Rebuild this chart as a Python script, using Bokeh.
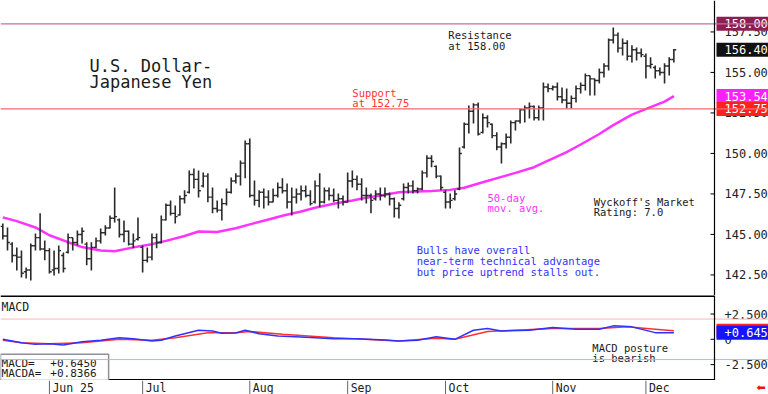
import numpy as np
from bokeh.plotting import figure
from bokeh.layouts import column
from bokeh.models import Range1d, Span, ColumnDataSource
from bokeh.core.properties import value
from bokeh.embed import file_html
from bokeh.resources import INLINE

# ---------------- data ----------------
opens = [
    145.5, 144.9, 144.4, 143.7, 143.6, 142.7, 142.8, 144.3, 144.8, 144.1,
    144.0, 142.8, 142.9, 143.7, 143.9, 144.8, 144.5, 145.0, 144.4, 143.5,
    144.2, 144.6, 145.1, 145.4, 146.0, 145.9, 145.0, 145.2, 144.4, 144.7,
    144.2, 143.4, 143.6, 144.8, 144.5, 145.9, 146.8, 146.3, 146.2, 147.2,
    147.6, 148.7, 148.4, 148.0, 148.6, 147.3, 146.6, 146.5, 146.9, 147.6,
    148.3, 148.6, 149.4, 150.6, 147.4, 147.1, 147.6, 147.3, 147.0, 147.4,
    147.9, 147.7, 147.0, 147.3, 147.5, 147.7, 147.4, 147.0, 148.0, 147.0,
    147.7, 147.4, 147.1, 147.2, 147.0, 148.3, 148.4, 148.1, 147.4, 147.4,
    147.2, 147.5, 147.4, 147.5, 147.2, 146.6, 147.2, 147.9, 148.0, 147.7,
    147.8, 148.8, 149.7, 149.2, 148.6, 147.6, 147.0, 147.2, 147.8, 150.4,
    151.8, 152.6, 153.0, 151.3, 152.2, 151.8, 151.1, 150.4, 150.6, 151.0,
    151.9, 152.0, 152.7, 152.8, 152.9, 152.2, 152.8, 154.1, 154.0, 154.1,
    153.5, 153.3, 153.1, 153.4, 154.0, 154.2, 154.8, 154.6, 154.5, 155.0,
    155.4, 157.0, 157.3, 156.5, 156.8, 156.0, 156.4, 156.2, 156.0, 155.4,
    155.3, 155.1, 155.0, 155.4, 155.8]
highs = [
    145.68, 145.43, 144.51, 144.20, 144.01, 142.96, 144.44, 145.06, 146.30, 144.63,
    144.14, 144.01, 144.32, 143.89, 145.06, 144.81, 145.25, 145.43, 144.51, 144.51,
    144.81, 145.37, 145.56, 146.17, 147.90, 145.99, 145.86, 145.25, 145.06, 146.05,
    144.32, 144.20, 145.06, 145.06, 146.17, 146.91, 147.10, 146.79, 147.41, 147.72,
    148.95, 149.07, 148.95, 148.83, 148.77, 147.90, 147.10, 147.22, 147.84, 148.52,
    148.77, 149.57, 150.80, 150.92, 148.33, 147.72, 147.84, 147.72, 147.84, 148.21,
    148.46, 148.15, 147.90, 147.84, 148.02, 148.02, 147.72, 148.33, 148.77, 147.90,
    147.90, 147.84, 147.53, 147.41, 148.83, 148.95, 148.64, 148.46, 147.90, 147.53,
    147.72, 147.90, 147.90, 147.59, 147.28, 146.98, 148.15, 148.21, 148.33, 147.90,
    148.95, 149.88, 149.88, 149.26, 148.64, 147.72, 147.53, 147.72, 150.37, 151.91,
    152.96, 153.09, 153.15, 152.47, 152.35, 151.85, 151.30, 150.68, 151.23, 152.04,
    152.04, 152.78, 152.96, 153.15, 152.96, 152.96, 154.38, 154.32, 154.20, 154.38,
    154.07, 154.01, 153.58, 154.20, 154.38, 154.94, 154.81, 154.63, 155.25, 155.56,
    157.10, 157.78, 157.47, 157.10, 156.98, 156.67, 156.54, 156.48, 156.17, 155.93,
    155.43, 155.31, 155.56, 155.93, 156.45]
lows = [
    144.69, 144.01, 143.27, 142.78, 142.34, 142.28, 142.16, 144.01, 144.01, 143.40,
    142.59, 142.47, 142.59, 142.65, 143.83, 144.01, 144.32, 144.44, 143.09, 142.78,
    144.14, 144.44, 144.94, 145.37, 145.74, 144.81, 144.51, 144.32, 144.14, 144.63,
    142.65, 143.27, 143.40, 144.14, 144.44, 145.86, 146.17, 145.68, 146.17, 146.91,
    147.53, 147.84, 147.28, 147.90, 146.98, 146.30, 146.36, 145.86, 146.79, 147.53,
    148.15, 148.02, 148.46, 147.28, 146.79, 146.67, 146.60, 146.79, 146.98, 147.28,
    147.53, 146.60, 146.17, 146.91, 147.10, 147.28, 146.79, 146.91, 146.67, 146.91,
    147.10, 146.98, 146.60, 146.79, 146.98, 147.90, 147.72, 147.10, 146.91, 146.30,
    147.10, 147.10, 147.28, 146.79, 146.05, 145.99, 147.10, 147.53, 147.53, 147.53,
    147.72, 148.52, 149.14, 148.46, 147.72, 146.60, 146.60, 147.10, 147.72, 150.31,
    151.23, 151.85, 151.11, 151.23, 151.60, 150.93, 150.19, 149.38, 150.31, 150.62,
    151.42, 151.85, 151.91, 152.16, 152.04, 152.04, 152.04, 153.77, 153.89, 153.27,
    153.09, 152.78, 152.78, 153.15, 153.70, 153.89, 153.58, 153.58, 154.32, 154.69,
    155.12, 156.79, 156.23, 156.05, 155.74, 155.62, 155.74, 155.93, 154.63, 155.25,
    154.63, 154.81, 154.32, 154.81, 155.62]
closes = [
    144.9, 144.5, 143.7, 143.6, 142.6, 142.8, 144.3, 144.8, 144.1, 144.0,
    142.7, 142.9, 144.0, 142.9, 144.8, 144.5, 145.0, 145.2, 143.5, 144.2,
    144.6, 145.1, 145.4, 146.0, 146.1, 145.0, 145.2, 144.4, 144.6, 144.8,
    143.4, 143.6, 144.8, 144.5, 145.9, 146.8, 146.3, 146.1, 147.2, 147.4,
    148.7, 148.4, 147.7, 148.6, 147.3, 146.6, 146.5, 146.9, 147.6, 148.3,
    148.6, 149.4, 150.6, 147.4, 147.1, 147.6, 147.3, 147.0, 147.4, 147.9,
    147.7, 147.0, 147.3, 147.5, 147.7, 147.4, 146.9, 148.0, 147.0, 147.7,
    147.4, 147.1, 147.2, 147.0, 148.3, 148.4, 148.1, 147.4, 147.4, 147.1,
    147.5, 147.4, 147.5, 147.2, 146.6, 146.8, 147.9, 148.0, 147.7, 147.8,
    148.8, 149.7, 149.5, 148.6, 147.9, 147.0, 147.1, 147.5, 150.0, 151.8,
    152.6, 153.0, 151.2, 152.2, 151.9, 151.1, 150.4, 150.6, 151.0, 151.9,
    152.0, 152.7, 152.8, 152.9, 152.2, 152.8, 154.1, 154.0, 154.1, 153.5,
    153.3, 153.1, 153.4, 154.0, 154.2, 154.8, 154.6, 154.5, 155.0, 155.4,
    157.0, 157.3, 156.5, 156.8, 156.0, 156.4, 156.2, 156.1, 155.4, 155.5,
    155.1, 155.0, 155.4, 155.8, 156.40]

ma_idx = [0, 3, 7, 10, 14, 17, 21, 24, 28, 32, 35, 39, 42, 46, 50, 53, 57, 60, 64, 67,
          71, 75, 78, 82, 85, 89, 92, 96, 99, 103, 107, 110, 114, 117, 121, 124, 128,
          131, 135, 139, 142, 144]
ma_val = [146.05, 145.82, 145.43, 144.95, 144.52, 144.22, 144.01, 143.96, 144.20, 144.40,
          144.60, 144.90, 145.18, 145.15, 145.38, 145.62, 145.92, 146.15, 146.42, 146.65,
          146.89, 147.10, 147.26, 147.45, 147.60, 147.65, 147.68, 147.75, 147.88, 148.22,
          148.55, 148.80, 149.15, 149.55, 150.08, 150.55, 151.20, 151.75, 152.40, 152.86,
          153.20, 153.54]

macd_idx = [0, 4, 7, 10, 13, 17, 21, 25, 28, 32, 34, 37, 42, 45, 47, 50, 52, 55, 59, 64,
            71, 76, 82, 85, 89, 93, 97, 101, 104, 107, 113, 118, 123, 128, 131, 135, 140, 144]
macd_val = [0.00, -0.34, -0.50, -0.44, -0.57, -0.24, -0.10, 0.16, 0.06, -0.17, -0.10, 0.33,
            0.90, 0.83, 0.60, 0.63, 0.90, 0.56, 0.33, 0.23, 0.06, 0.06, -0.07, -0.17, -0.10,
            0.26, 0.00, 0.90, 1.06, 0.83, 0.90, 1.16, 1.00, 1.00, 1.33, 1.23, 0.66, 0.645]
sig_idx = [0, 4, 10, 17, 25, 32, 37, 44, 50, 53, 60, 71, 85, 93, 97, 104, 110, 118, 128,
           134, 140, 144]
sig_val = [-0.10, -0.34, -0.44, -0.34, 0.00, -0.10, 0.16, 0.66, 0.66, 0.77, 0.50, 0.16,
           -0.17, 0.10, 0.00, 0.77, 0.90, 1.06, 1.06, 1.23, 1.00, 0.8366]

month_labels = ["Jun 25", "Jul", "Aug", "Sep", "Oct", "Nov", "Dec"]
month_start = [10, 30, 53, 74, 95, 118, 138]

price_ticks = [142.5, 145.0, 147.5, 150.0, 152.5, 155.0, 157.5]
price_tick_labels = ["142.50", "145.00", "147.50", "150.00", "152.50", "155.00", "157.50"]
macd_ticks = [2.5, 0.0, -2.5]
macd_tick_labels = ["+2.500", "0", "-2.500"]
resistance = 158.00
support = 152.75
last_close = 156.40
last_ma = 153.54
macd_last = 0.6450
macda_last = 0.8366
macd_guides = [2.0, -2.0]

# ---------------- geometry ----------------
W = 768
FONT = "DejaVu Sans Mono"
PXU = 4.66                      # pixels per bar
X0 = -0.5
xr = Range1d(X0, X0 + W / PXU)  # frame spans the whole width
AX = X0 + 714 / PXU             # price axis line position
TAGX = X0 + 742 / PXU           # centre of value tags

x = np.arange(len(closes))
src = ColumnDataSource(dict(x=x, o=opens, h=highs, l=lows, c=closes,
                            xl=x - 0.5, xr=x + 0.5))


def make_fig(h, yr):
    f = figure(width=W, height=h, x_range=xr, y_range=yr, output_backend="svg",
               toolbar_location=None, x_axis_location=None, y_axis_location=None,
               min_border_left=0, min_border_right=0, min_border_top=0, min_border_bottom=0)
    f.outline_line_color = None
    f.grid.visible = False
    return f


def txt(fig, xs, ys, lines, color, size, baseline="alphabetic", x_offset=0):
    fig.text(x=xs, y=ys, text=lines, text_font=value(FONT), text_font_size=size,
             text_color=color, text_baseline=baseline, text_align="left", x_offset=x_offset)


def right_axis(fig, ticks, labels):
    n = len(ticks)
    fig.add_layout(Span(location=AX, dimension="height", line_color="black", line_width=1.2))
    fig.segment(x0=[AX - 4 / PXU] * n, y0=ticks, x1=[AX] * n, y1=ticks,
                line_color="black", line_width=1)
    txt(fig, [AX] * n, ticks, labels, "#222222", "12px", baseline="middle", x_offset=10)


def tag(fig, yv, text, bg):
    fig.rect(x=[TAGX], y=[yv], width=52, height=14, width_units="screen",
             height_units="screen", fill_color=bg, line_color=None)
    txt(fig, [AX], [yv], [text], "white", "12px", baseline="middle", x_offset=10)


# ---- main price panel ----
p = make_fig(295, Range1d(141.23, 159.44))
p.add_layout(Span(location=resistance, dimension="width", line_color="#c86f9c", line_width=1.3))
p.add_layout(Span(location=support, dimension="width", line_color="#f06a6a", line_width=1.3))

p.line(ma_idx, ma_val, line_color="#ff33ff", line_width=2.5)

bar_col = "#2a2a2a"
p.segment(x0="x", y0="l", x1="x", y1="h", source=src, line_color=bar_col, line_width=1.6)
p.segment(x0="xl", y0="o", x1="x", y1="o", source=src, line_color=bar_col, line_width=1.4)
p.segment(x0="x", y0="c", x1="xr", y1="c", source=src, line_color=bar_col, line_width=1.4)

txt(p, [18.6, 18.6], [155.40, 154.38], ["U.S. Dollar-", "Japanese Yen"], "#1a1a1a", "17px")
txt(p, [95.6, 95.6], [157.28, 156.66], ["Resistance", "at 158.00"], "#1a1a1a", "10.5px")
txt(p, [75.0, 75.0], [153.72, 153.10], ["Support", "at 152.75"], "#ff3333", "10.5px")
txt(p, [104.0, 104.0], [147.26, 146.64], ["50-day", "mov. avg."], "#ff33ff", "10.5px")
txt(p, [126.8, 126.8], [146.99, 146.37], ["Wyckoff's Market", "Rating: 7.0"], "#1a1a1a", "10.5px")
txt(p, [88.8, 88.8, 88.8], [144.01, 143.35, 142.71],
    ["Bulls have overall", "near-term technical advantage", "but price uptrend stalls out."],
    "#3333ff", "10.5px")

right_axis(p, price_ticks, price_tick_labels)
tag(p, resistance, "%.2f" % resistance, "#8b1f52")
tag(p, last_close, "%.2f" % last_close, "#111111")
tag(p, last_ma, "%.2f" % last_ma, "#ff1eff")
tag(p, support, "%.2f" % support, "#ff2020")

# ---- MACD panel ----
MTOP, MBOT = 4.33, -4.07
m = make_fig(85, Range1d(MBOT, MTOP))
m.add_layout(Span(location=macd_guides[0], dimension="width", line_color="#ffb3b3", line_width=1))
m.add_layout(Span(location=macd_guides[1], dimension="width", line_color="#b3b3ff", line_width=1))
m.segment(x0=[X0, X0], y0=[MTOP, MBOT], x1=[AX, AX], y1=[MTOP, MBOT],
          line_color="black", line_width=3)
m.line(sig_idx, sig_val, line_color="#ff3030", line_width=1.5)
m.line(macd_idx, macd_val, line_color="#3030ff", line_width=1.5)

m.quad(left=[X0], right=[22.7], bottom=[MBOT], top=[-1.47], fill_color="white",
       line_color="#909090", line_width=1.5)
txt(m, [-0.28], [3.16], ["MACD"], "#1a1a1a", "11.5px")
txt(m, [-0.28, -0.28], [-2.35, -3.35], ["MACD=", "MACDA="], "#1a1a1a", "11px")
txt(m, [10.2, 10.2], [-2.35, -3.35], ["%+.4f" % macd_last, "%+.4f" % macda_last],
    "#1a1a1a", "11px")
txt(m, [126.5, 126.5], [-0.85, -1.80], ["MACD posture", "is bearish"], "#1a1a1a", "10.5px")

right_axis(m, macd_ticks, macd_tick_labels)
tag(m, macda_last, "%+.3f" % macda_last, "#ff2020")
tag(m, macd_last, "%+.3f" % macd_last, "#1414ff")

# ---- date strip ----
d = make_fig(14, Range1d(0, 1))
d.segment(x0=month_start, y0=[0] * len(month_start), x1=month_start, y1=[1] * len(month_start),
          line_color="#666666", line_width=1)
txt(d, month_start, [0.5] * len(month_start), month_labels, "#1a1a1a", "11.5px",
    baseline="middle", x_offset=3)
d.text(x=[X0 + 756 / PXU], y=[0.5], text=["\u2b05"], text_font=value("DejaVu Sans"),
       text_font_size="11px", text_color="#ee1111", text_baseline="middle", text_align="left")

layout = column(p, m, d, spacing=0)
open("out.html", "w").write(file_html(layout, INLINE))
